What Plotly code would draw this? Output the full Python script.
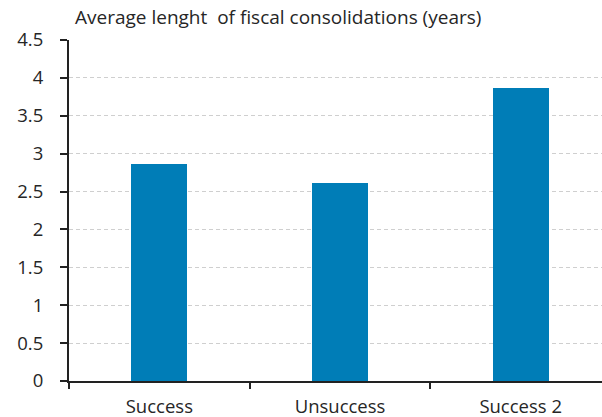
import plotly.graph_objects as go

categories = ["Success", "Unsuccess", "Success 2"]
avg_length = [2.87, 2.61, 3.87]
title_text = "Average lenght\u00a0 of fiscal consolidations (years)"

fig = go.Figure(
    go.Bar(
        x=categories,
        y=avg_length,
        width=0.31,
        marker=dict(color="#007DB7", line=dict(width=0)),
        hoverinfo="x+y",
    )
)

font_family = "'Open Sans', 'Noto Sans', sans-serif"
text_color = "#262626"
label_size = 18.5

fig.update_layout(
    width=602,
    height=417,
    margin=dict(l=69, r=0, t=40, b=36),
    paper_bgcolor="white",
    plot_bgcolor="white",
    showlegend=False,
    font=dict(family=font_family, size=label_size, color=text_color),
    bargap=0,
)

fig.update_xaxes(
    type="category",
    range=[-0.5, 2.45],
    tickson="boundaries",
    ticks="outside",
    ticklen=6,
    tickwidth=2,
    tickcolor="#222222",
    showline=True,
    linecolor="#222222",
    linewidth=2,
    showgrid=False,
    tickfont=dict(size=label_size, color=text_color),
    ticklabelstandoff=8,
    automargin=False,
    fixedrange=True,
)

fig.update_yaxes(
    range=[0, 4.5],
    dtick=0.5,
    tick0=0,
    ticks="outside",
    ticklen=7,
    tickwidth=2,
    tickcolor="#222222",
    showline=True,
    linecolor="#222222",
    linewidth=2,
    showgrid=True,
    gridcolor="#CFCFCF",
    gridwidth=1,
    griddash="4px,3px",
    zeroline=False,
    tickfont=dict(size=label_size, color=text_color),
    ticklabelstandoff=13,
    automargin=False,
    fixedrange=True,
)

fig.add_annotation(
    text=title_text,
    xref="paper",
    yref="paper",
    x=4 / 533,
    y=1,
    xanchor="left",
    yanchor="middle",
    yshift=23,
    showarrow=False,
    font=dict(size=19, color=text_color, family=font_family),
)

fig.write_html("out.html")
